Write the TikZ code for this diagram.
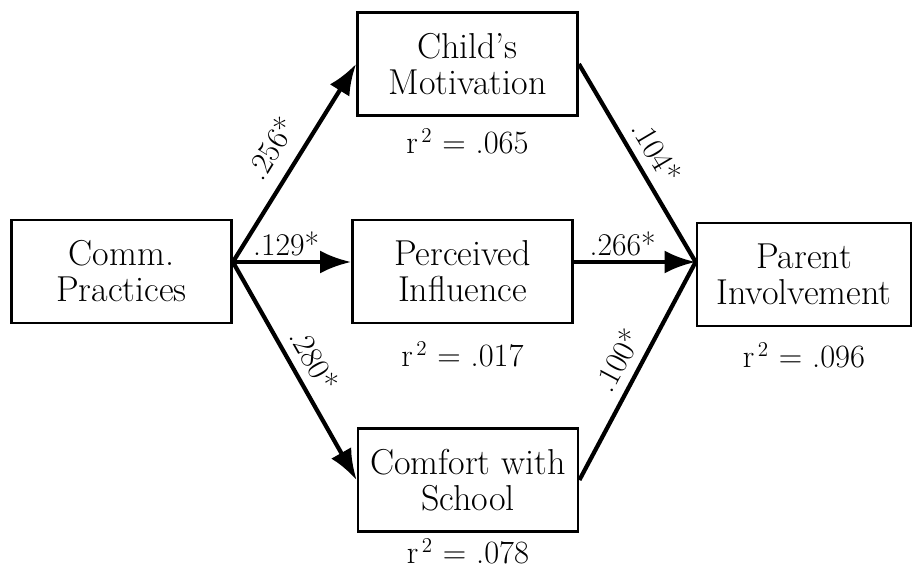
\documentclass[tikz,border=0pt]{standalone}
\usepackage{tikz}
\usetikzlibrary{arrows.meta,positioning}

\begin{document}
\begin{tikzpicture}[
    font=\fontsize{20.5}{20.5}\selectfont,
    varbox/.style={draw, line width=1.6pt, minimum width=4.4cm, minimum height=2.06cm, align=center, inner sep=2pt},
    pathline/.style={line width=2.4pt, ->, >={Latex[length=0.62cm,width=0.46cm]}},
    plainline/.style={line width=2.4pt},
    coef/.style={font=\fontsize{18}{18}\selectfont, inner sep=2pt},
    rsq/.style={font=\fontsize{18.5}{18.5}\selectfont, inner sep=0pt}
]
    \useasboundingbox (0,0) rectangle (18.24,11.4);

    % Variables
    \node[varbox] (comm) at (2.43, 5.97) {Comm.\\Practices};
    \node[varbox] (child) at (9.35, 10.12) {Child's\\Motivation};
    \node[varbox] (perc) at (9.25, 5.97) {Perceived\\Influence};
    \node[varbox] (comf) at (9.36, 1.8) {Comfort with\\School};
    \node[varbox, minimum width=4.28cm] (parent) at (16.08, 5.91) {Parent\\Involvement};

    % Explained variance
    \node[rsq, below=0.24cm of child] (childr) {r$^{\,2}$ = .065};
    \node[rsq, below=0.34cm of perc] (percr) {r$^{\,2}$ = .017};
    \node[rsq, below=0.12cm of comf] (comfr) {r$^{\,2}$ = .078};
    \node[rsq, below=0.3cm of parent] (parentr) {r$^{\,2}$ = .096};

    % Paths from Comm. Practices
    \draw[pathline] ([yshift=.19cm]comm.east) -- node[coef, sloped, above=6pt] {.256*} (child.west);
    \draw[pathline] ([yshift=.19cm]comm.east) -- node[coef, above, pos=.45] {.129*} ([yshift=.19cm]perc.west);
    \draw[pathline] ([yshift=.19cm]comm.east) -- node[coef, sloped, above=3pt] {.280*} (comf.west);

    % Paths into Parent Involvement
    \draw[plainline] (child.east) -- node[coef, sloped, above=3pt] {.104*} ([yshift=.25cm]parent.west);
    \draw[pathline] ([yshift=.19cm]perc.east) -- node[coef, above, pos=.4] {.266*} ([yshift=.25cm]parent.west);
    \draw[plainline] (comf.east) -- node[coef, sloped, above=3pt] {.100*} ([yshift=.25cm]parent.west);
\end{tikzpicture}
\end{document}
